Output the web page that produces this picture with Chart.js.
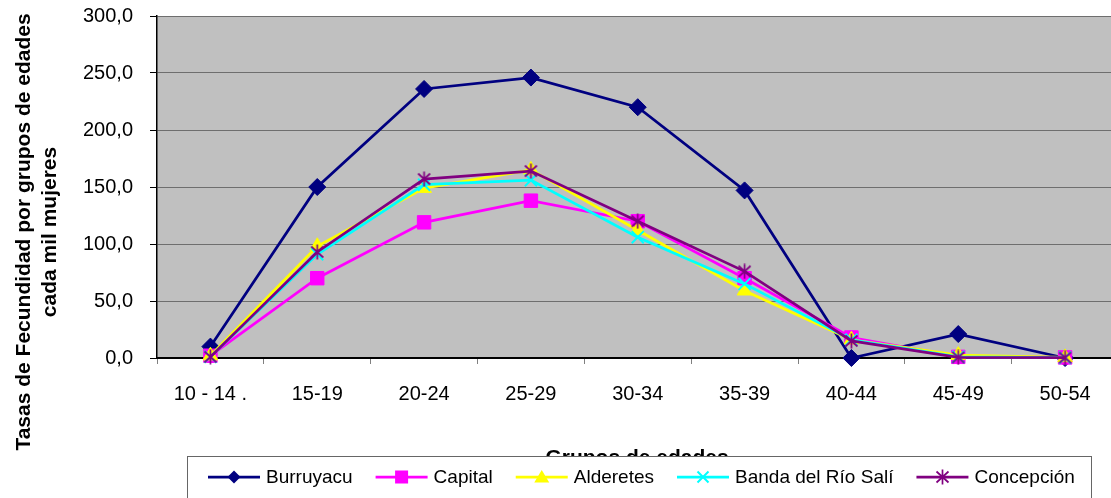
<!DOCTYPE html>
<html>
<head>
<meta charset="utf-8">
<script src="https://cdn.jsdelivr.net/npm/chart.js@4.4.1/dist/chart.umd.min.js"></script>
<style>
  html, body { margin: 0; padding: 0; background: #fff; overflow: hidden; width: 1111px; height: 498px; }
  #wrap { width: 1129px; height: 498px; }
</style>
</head>
<body>
<div id="wrap"><canvas id="c" width="1129" height="498"></canvas></div>
<script>
const FONT = '"Liberation Sans", Arial, sans-serif';

const categories = ['10 - 14 .', '15-19', '20-24', '25-29', '30-34', '35-39', '40-44', '45-49', '50-54'];
const yTicks = [0, 50, 100, 150, 200, 250, 300];

const burruyacu  = [10, 150, 236, 246, 220, 147, 0, 21, 0];
const capital    = [2, 70, 119, 138, 120, 70, 18, 1, 0.5];
const alderetes  = [2, 98, 149, 165, 112, 59, 16, 2.5, 0.5];
const banda      = [1, 91, 152, 156, 106, 65, 16, 1, 0.3];
const concepcion = [1, 93, 157, 164, 120, 76, 15, 0.5, 0.3];

const seriesNames = ['Burruyacu', 'Capital', 'Alderetes', 'Banda del Río Salí', 'Concepción'];
const yTitleLines = ['Tasas de Fecundidad por grupos de edades', 'cada mil mujeres'];
const xTitle = 'Grupos de edades';

// custom Excel-like star marker (X plus vertical bar)
function makeStar(color) {
  const c = document.createElement('canvas');
  c.width = 15; c.height = 16;
  const g = c.getContext('2d');
  g.strokeStyle = color; g.lineWidth = 1.7;
  g.beginPath();
  g.moveTo(1.5, 2.5); g.lineTo(13.5, 13.5);
  g.moveTo(13.5, 2.5); g.lineTo(1.5, 13.5);
  g.moveTo(7.5, 0.5); g.lineTo(7.5, 15.5);
  g.stroke();
  return c;
}
const starImg = makeStar('#800080');

const styles = [
  {color: '#000080', pointStyle: 'rectRot', radius: 8.5, bw: 1, order: 5},
  {color: '#FF00FF', pointStyle: 'rect', radius: 9.5, bw: 1, order: 4},
  {color: '#FFFF00', pointStyle: 'triangle', radius: 8.5, bw: 1, order: 3},
  {color: '#00FFFF', pointStyle: 'crossRot', radius: 8.5, bw: 2, order: 2},
  {color: '#800080', pointStyle: starImg, radius: 8, bw: 1, order: 1}
];
const seriesData = [burruyacu, capital, alderetes, banda, concepcion];

const datasets = seriesData.map((d, i) => ({
  label: seriesNames[i],
  data: d,
  borderColor: styles[i].color,
  backgroundColor: styles[i].color,
  borderWidth: 2.75,
  pointStyle: styles[i].pointStyle,
  pointRadius: styles[i].radius,
  pointBorderWidth: styles[i].bw,
  pointBackgroundColor: styles[i].color,
  pointBorderColor: styles[i].color,
  tension: 0,
  clip: false,
  order: styles[i].order
}));

function drawMarker(ctx, style, x, y) {
  const c = style.color;
  ctx.save();
  ctx.fillStyle = c; ctx.strokeStyle = c;
  if (style.pointStyle === 'rectRot') {
    const r = 6.5;
    ctx.beginPath();
    ctx.moveTo(x, y - r); ctx.lineTo(x + r, y); ctx.lineTo(x, y + r); ctx.lineTo(x - r, y); ctx.closePath();
    ctx.fill();
  } else if (style.pointStyle === 'rect') {
    ctx.fillRect(x - 6.5, y - 6.5, 13, 13);
  } else if (style.pointStyle === 'triangle') {
    ctx.beginPath();
    ctx.moveTo(x, y - 7); ctx.lineTo(x + 7.5, y + 5.5); ctx.lineTo(x - 7.5, y + 5.5); ctx.closePath();
    ctx.fill();
  } else if (style.pointStyle === 'crossRot') {
    ctx.lineWidth = 2;
    ctx.beginPath();
    ctx.moveTo(x - 5.5, y - 5.5); ctx.lineTo(x + 5.5, y + 5.5);
    ctx.moveTo(x + 5.5, y - 5.5); ctx.lineTo(x - 5.5, y + 5.5);
    ctx.stroke();
  } else {
    ctx.drawImage(style.pointStyle, x - 7.5, y - 8);
  }
  ctx.restore();
}

const decor = {
  id: 'decor',
  beforeDraw(chart) {
    const {ctx, chartArea: a} = chart;
    ctx.save();
    ctx.fillStyle = '#C0C0C0';
    ctx.fillRect(a.left, a.top, a.right - a.left, a.bottom - a.top);
    ctx.restore();
  },
  afterDraw(chart) {
    const ctx = chart.ctx;
    ctx.save();
    // y axis title (two lines, rotated)
    ctx.fillStyle = '#000';
    ctx.font = 'bold 21px ' + FONT;
    ctx.textAlign = 'center';
    ctx.textBaseline = 'alphabetic';
    ctx.translate(0, 232);
    ctx.rotate(-Math.PI / 2);
    ctx.fillText(yTitleLines[0], 0, 29.5);
    ctx.fillText(yTitleLines[1], 0, 56);
    ctx.restore();

    // x axis title
    ctx.save();
    ctx.fillStyle = '#000';
    ctx.font = 'bold 21px ' + FONT;
    ctx.textAlign = 'center';
    ctx.textBaseline = 'alphabetic';
    ctx.fillText(xTitle, 637, 464);
    ctx.restore();

    // legend box
    ctx.save();
    ctx.fillStyle = '#fff';
    ctx.strokeStyle = '#666';
    ctx.lineWidth = 1;
    ctx.fillRect(187, 456, 905, 80);
    ctx.strokeRect(187.5, 456.5, 904, 80);
    ctx.font = '19px ' + FONT;
    ctx.textBaseline = 'middle';
    ctx.textAlign = 'left';
    let x = 208;
    const y = 477;
    chart.data.datasets.forEach((ds, i) => {
      ctx.strokeStyle = ds.borderColor;
      ctx.lineWidth = 2.75;
      ctx.beginPath(); ctx.moveTo(x, y); ctx.lineTo(x + 52, y); ctx.stroke();
      drawMarker(ctx, styles[i], x + 26, y);
      ctx.fillStyle = '#000';
      ctx.fillText(ds.label, x + 58, y + 1);
      x += 58 + ctx.measureText(ds.label).width + 23;
    });
    ctx.restore();
  }
};

new Chart(document.getElementById('c'), {
  type: 'line',
  data: { labels: categories, datasets },
  options: {
    responsive: false,
    animation: false,
    devicePixelRatio: 1,
    layout: { padding: { top: 16, right: 1, left: 0, bottom: 0 } },
    plugins: { legend: { display: false }, tooltip: { enabled: false }, title: { display: false } },
    scales: {
      x: {
        type: 'category',
        offset: true,
        grid: { display: true, drawOnChartArea: false, drawTicks: true, tickLength: 6, color: '#808080', offset: true },
        border: { display: true, color: '#000', width: 2 },
        ticks: { color: '#000', font: { family: FONT, size: 20 }, padding: 18, maxRotation: 0, autoSkip: false },
        afterFit(scale) { scale.height = 140; scale.paddingLeft = 0; scale.paddingRight = 0; }
      },
      y: {
        min: 0, max: 300,
        afterBuildTicks(scale) { scale.ticks = yTicks.map(v => ({ value: v })); },
        ticks: {
          color: '#000', font: { family: FONT, size: 20 }, padding: 17,
          callback: v => v.toFixed(1).replace('.', ',')
        },
        grid: { color: '#6e6e6e', lineWidth: 1, tickLength: 7, tickColor: '#000' },
        border: { display: true, color: '#000', width: 1.5 },
        afterFit(scale) { scale.width = 157; scale.paddingTop = 0; scale.paddingBottom = 0; }
      }
    }
  },
  plugins: [decor]
});
</script>
</body>
</html>
